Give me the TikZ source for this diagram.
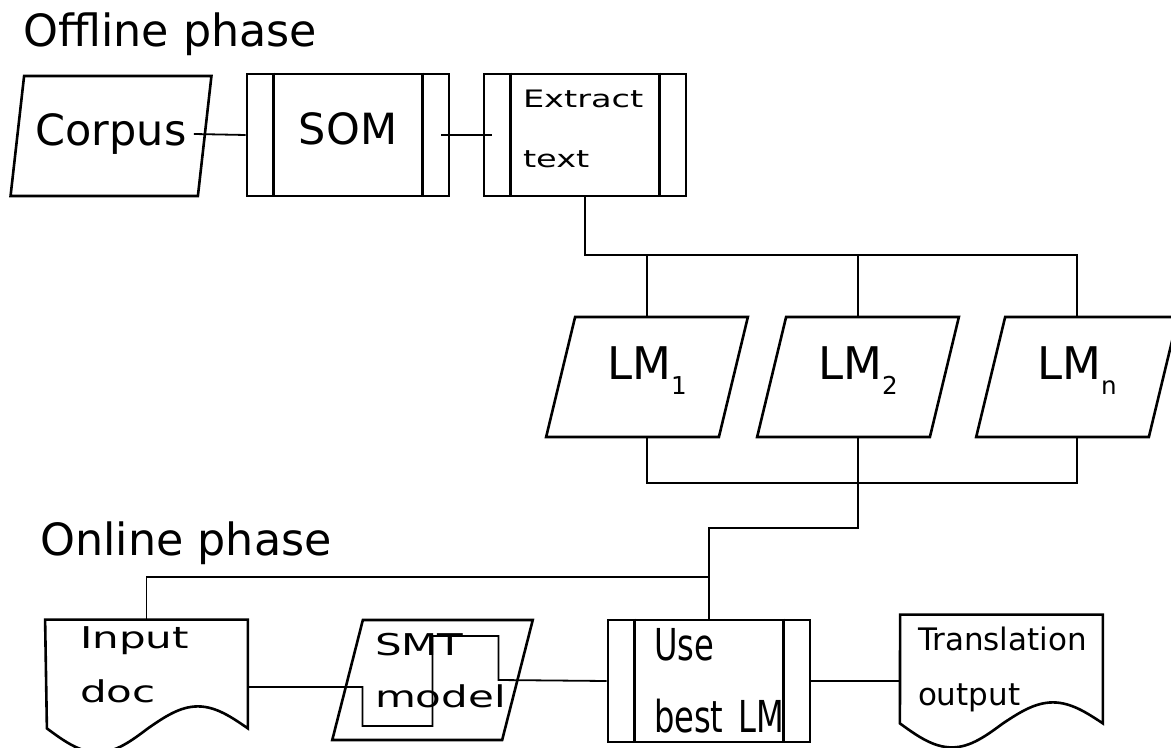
\documentclass[tikz,border=0pt]{standalone}
\usepackage{fontspec}
\setmainfont{DejaVu Sans}
\newfontfamily\widefont[FakeStretch=1.4]{DejaVu Sans}
\newfontfamily\narrowfont[FakeStretch=0.73]{DejaVu Sans}
\usetikzlibrary{shapes.geometric, calc}

\begin{document}
\begin{tikzpicture}[x=0.5pt, y=-0.5pt,
    shapeline/.style={line width=1.3pt},
    link/.style={line width=0.9pt},
    title/.style={anchor=base west, inner sep=0pt, font=\fontsize{22.2}{26}\selectfont},
    iobox/.style={shapeline, draw, trapezium, trapezium left angle=75, trapezium right angle=105,
      trapezium stretches=true, minimum width=101pt, minimum height=60pt, inner sep=0pt},
    procbox/.style={shapeline, draw, rectangle, minimum width=101pt, minimum height=61pt, inner sep=0pt,
      append after command={
        ([xshift=14pt]\tikzlastnode.north west) edge[shapeline] ([xshift=14pt]\tikzlastnode.south west)
        ([xshift=-14pt]\tikzlastnode.north east) edge[shapeline] ([xshift=-14pt]\tikzlastnode.south east)}},
    docbox/.style={rectangle, minimum width=101pt, inner sep=0pt, align=left},
    lmtext/.style={font=\fontsize{22.5}{26}\selectfont, text depth=13.5pt}
  ]
  \useasboundingbox (0,0) rectangle (1171,748);

  % offline phase
  \node[title] (offline) at (23,47) {Offline phase};
  \node[iobox, font=\fontsize{21.5}{24}\selectfont, text depth=6pt] (corpus) at (111,136) {Corpus};
  \node[procbox, font=\fontsize{21.5}{24}\selectfont, text depth=6pt] (som) at (348,135) {SOM};
  \node[procbox, text width=62pt, align=left, text depth=36pt,
        font={\widefont\fontsize{12}{30}\selectfont}] (extract) at (585,135) {Extract\\text};

  \node[iobox, lmtext] (lm1) at (647,377) {LM\raisebox{-7.5pt}{\fontsize{12.3}{14}\selectfont 1}};
  \node[iobox, lmtext] (lm2) at (858,377) {LM\raisebox{-7.5pt}{\fontsize{12.3}{14}\selectfont 2}};
  \node[iobox, lmtext] (lmn) at (1077,377) {LM\raisebox{-7.5pt}{\fontsize{12.3}{14}\selectfont n}};

  % online phase
  \node[title] (online) at (40,555) {Online phase};
  \node[docbox, minimum height=45pt, text width=66.5pt,
        font={\widefont\fontsize{15}{27}\selectfont}] (input) at (146.5,665) {Input\\doc};
  \draw[shapeline] (input.north west) -- (input.north east) -- (input.south east) -- ++(0,18)
    sin ++(-50,-22) cos ++(-50,22) sin ++(-50,24) cos ++(-51,-24) -- cycle;
  \node[iobox, text width=57.5pt, align=left, text depth=36pt,
        font={\widefont\fontsize{15}{26}\selectfont}] (smt) at (432.5,680) {SMT\\model};
  \node[procbox, text width=55pt, align=left,
        font={\narrowfont\fontsize{22}{36}\selectfont}] (use) at (709,681) {Use\\best~LM};
  \node[docbox, minimum height=54pt, text width=83.5pt,
        font=\fontsize{15.5}{27.5}\selectfont] (trans) at (1001.5,669) {Translation\\output};
  \draw[shapeline] (trans.north west) -- (trans.north east) -- (trans.south east)
    sin ++(-50,-21) cos ++(-50,21) sin ++(-51,24) cos ++(-52,-24) -- cycle;

  % connectors
  \coordinate (railA) at (0,255);
  \coordinate (railB) at (0,483);
  \coordinate (railC) at (0,528);
  \coordinate (railD) at (0,577);
  \draw[link] ($(corpus.east)+(-12,-2)$) -- (som.west);
  \draw[link] ($(som.east)+(-9,0)$) -- ($(extract.west)+(9,0)$);
  \draw[link] (extract.south) |- (railA -| lmn) -- (lmn.north -| lmn);
  \draw[link] (railA -| lm1) -- (lm1.north -| lm1);
  \draw[link] (railA -| lm2) -- (lm2.north -| lm2);
  \draw[link] (lm1.south -| lm1) |- (railB -| lmn) -- (lmn.south -| lmn);
  \draw[link] (lm2.south -| lm2) -- (railC -| lm2) -| (use.north);
  \draw[link] (input.north) |- (railD -| use);
  \draw[link] ($(input.east)+(0,22)$) -| ($(smt)+(-70,46)$) -| ($(smt)+(0,-44)$)
    -| ($(smt)+(66,0)$) -- (use.west);
  \draw[link] (use.east) -- (use.east -| trans.west);
\end{tikzpicture}
\end{document}
